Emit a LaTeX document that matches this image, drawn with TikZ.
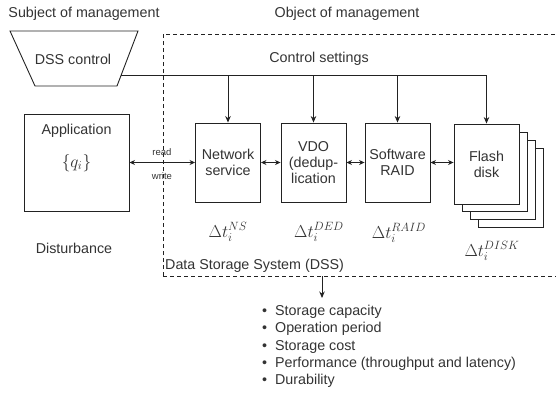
\documentclass[tikz,border=0pt]{standalone}
\usepackage{fontspec}
\setmainfont{Liberation Sans}
\usetikzlibrary{arrows.meta}
\definecolor{ink}{HTML}{333333}
\definecolor{ln}{HTML}{222222}
\tikzset{
  box/.style={draw=ln, line width=0.9pt, fill=white, text=ink, minimum width=65pt, minimum height=79pt, inner sep=1pt, align=center, font=\fontsize{14.3}{16}\selectfont},
  lbl/.style={inner sep=0pt, text=ink, font=\fontsize{14.3}{16}\selectfont},
  mlbl/.style={inner sep=0pt, text=ink, font=\fontsize{18.5}{20}\selectfont},
  arr/.style={draw=ln, line width=0.9pt, -{Stealth[length=6.5pt,width=5.5pt]}},
  darr/.style={draw=ln, line width=0.9pt, {Stealth[length=5.5pt,width=5pt]}-{Stealth[length=5.5pt,width=5pt]}},
  dsh/.style={draw=ln, line width=0.9pt, dash pattern=on 4pt off 3pt}
}
\begin{document}
\begin{tikzpicture}[x=1pt,y=-1pt]
\useasboundingbox (0,0) rectangle (557,392);
% titles
\node[lbl] (subj) at (84,14) {Subject of management};
\node[lbl] (obj) at (347,14) {Object of management};
% DSS control trapezoid
\draw[draw=ln, line width=0.9pt] (10,31) -- (138,31) -- (117,86) -- (35,86) -- cycle;
\node[lbl] (dss) at (73,59) {DSS control};
\coordinate (ctlout) at (121,75);
% dashed DSS region
\draw[dsh] (163,276) -- (163,34) -- (556,34);
\draw[dsh] (163,276) -- (556,276);
\node[lbl, anchor=south west] (dsslbl) at (165,273) {Data Storage System (DSS)};
\node[lbl] (cs) at (319,59) {Control settings};
% application
\node[box, minimum width=105pt, minimum height=97pt] (app) at (76.5,162.5) {};
\node[lbl] (applbl) at (76.5,131) {Application};
\node[mlbl] (q) at (76.5,163) {$\{q_i\}$};
\node[lbl] (dist) at (74,248) {Disturbance};
% components
\node[box] (ns) at (228,162.5) {Network\\service};
\node[box] (vdo) at (313.5,162.5) {VDO\\(dedup-\\lication};
\node[box] (raid) at (397.5,162.5) {Software\\RAID};
\node[box] (f4) at (510.5,188) {};
\node[box] (f3) at (502.5,180) {};
\node[box] (f2) at (494.5,172) {};
\node[box, minimum height=80pt] (flash) at (486.5,164) {Flash\\disk};
% control settings connectors
\draw[draw=ln, line width=0.9pt] (ctlout) -- (flash.north |- ctlout);
\draw[arr] (flash.north |- ctlout) -- (flash.north);
\draw[arr] (ns.north |- ctlout) -- (ns.north);
\draw[arr] (vdo.north |- ctlout) -- (vdo.north);
\draw[arr] (raid.north |- ctlout) -- (raid.north);
% data path
\draw[darr] (app.east) -- (ns.west);
\node[inner sep=0pt, text=ink, font=\fontsize{9.5}{11}\selectfont] (rd) at (162,152) {read};
\node[inner sep=0pt, text=ink, font=\fontsize{9.5}{11}\selectfont] (wr) at (162,176) {write};
\draw[darr] (ns.east) -- (vdo.west);
\draw[darr] (vdo.east) -- (raid.west);
\draw[darr] (raid.east) -- (flash.west |- raid.east);
% delays
\node[mlbl] (dns) at (228,232) {$\Delta t_i^{NS}$};
\node[mlbl] (dded) at (319,232) {$\Delta t_i^{DED}$};
\node[mlbl] (draid) at (399,233) {$\Delta t_i^{RAID}$};
\node[mlbl] (ddisk) at (492,251) {$\Delta t_i^{DISK}$};
% output
\coordinate (outtop) at (322,276);
\node[lbl, anchor=north west, align=left, font=\fontsize{14.3}{17.3}\selectfont] (list) at (262,305)
 {\textbullet\ \ Storage capacity\\
  \textbullet\ \ Operation period\\
  \textbullet\ \ Storage cost\\
  \textbullet\ \ Performance (throughput and latency)\\
  \textbullet\ \ Durability};
\draw[arr] (outtop) -- (322,298);
\end{tikzpicture}
\end{document}
